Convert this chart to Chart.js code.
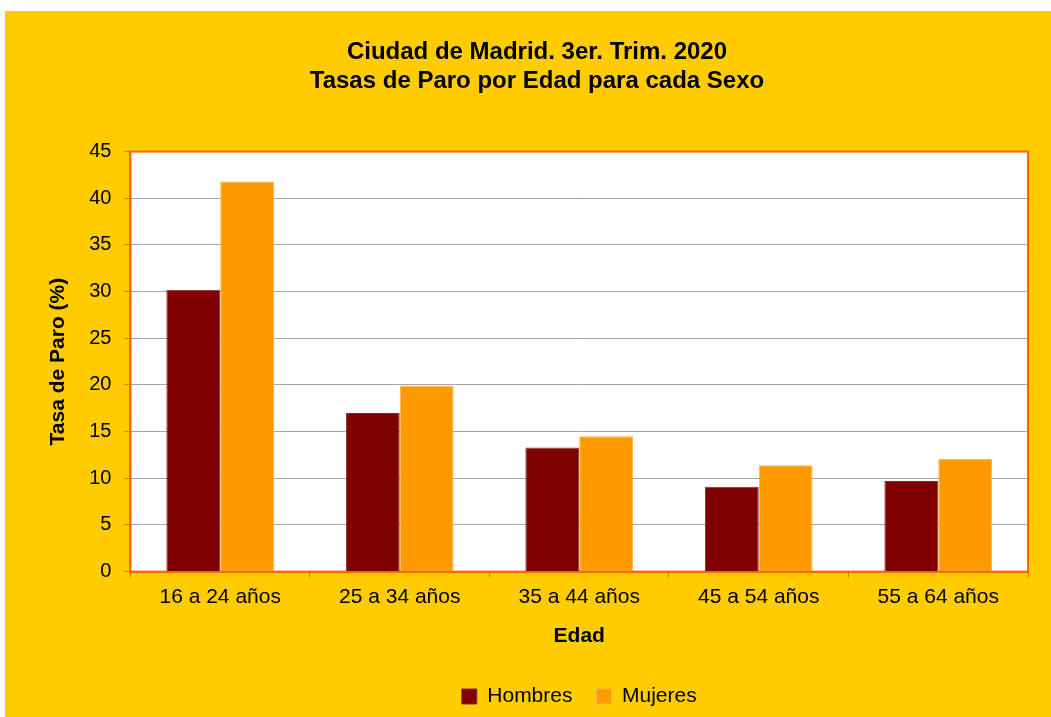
<!DOCTYPE html>
<html lang="es">
<head>
<meta charset="utf-8">
<title>Tasas de Paro por Edad para cada Sexo</title>
<script src="https://cdn.jsdelivr.net/npm/chart.js@4.4.1/dist/chart.umd.min.js"></script>
<style>
    html, body { margin: 0; padding: 0; background: #ffffff; }
    #wrap {
        position: absolute;
        left: 5px;
        top: 11px;
        width: 1046px;
        height: 706px;
        background: #FFCC00;
    }
</style>
</head>
<body>
<div id="wrap"><canvas id="paroChart" width="1046" height="706"></canvas></div>
<script>
// Datos (Ciudad de Madrid, 3er trimestre 2020)
const edades = ['16 a 24 años', '25 a 34 años', '35 a 44 años', '45 a 54 años', '55 a 64 años'];
const hombres = [30.2, 17.0, 13.3, 9.1, 9.7];
const mujeres = [41.8, 19.9, 14.5, 11.4, 12.1];
const yTicks = [0, 5, 10, 15, 20, 25, 30, 35, 40, 45];

const naranja = '#FF6600';
const fuente = "'Liberation Sans', Arial, sans-serif";

// fondo blanco del área de trazado y marco naranja
const plotFrame = {
    id: 'plotFrame',
    beforeDraw(chart) {
        const { ctx, chartArea: a } = chart;
        ctx.save();
        ctx.fillStyle = '#ffffff';
        ctx.fillRect(a.left, a.top, a.right - a.left, a.bottom - a.top);
        ctx.restore();
    },
    beforeDatasetsDraw(chart) {
        const { ctx, chartArea: a } = chart;
        ctx.save();
        ctx.strokeStyle = naranja;
        ctx.lineWidth = 2;
        ctx.strokeRect(a.left, a.top, a.right - a.left, a.bottom - a.top);
        ctx.restore();
    }
};

const ctx = document.getElementById('paroChart').getContext('2d');

new Chart(ctx, {
    type: 'bar',
    data: {
        labels: edades,
        datasets: [{
            label: 'Hombres',
            data: hombres,
            backgroundColor: '#800000',
            borderColor: '#8f2a2a',
            borderWidth: 1,
            categoryPercentage: 0.6,
            barPercentage: 1.0
        }, {
            label: 'Mujeres',
            data: mujeres,
            backgroundColor: '#FF9900',
            borderColor: '#ffb347',
            borderWidth: 1,
            categoryPercentage: 0.6,
            barPercentage: 1.0
        }]
    },
    options: {
        responsive: false,
        animation: false,
        devicePixelRatio: 1,
        layout: {
            padding: { left: 41, right: 23, top: 0, bottom: 0 }
        },
        scales: {
            x: {
                offset: true,
                grid: {
                    display: true,
                    offset: true,
                    drawOnChartArea: false,
                    tickLength: 6,
                    tickColor: naranja,
                    tickWidth: 1
                },
                border: { color: naranja, width: 2 },
                ticks: {
                    color: '#000000',
                    padding: 7,
                    font: { family: fuente, size: 21 }
                },
                title: {
                    display: true,
                    text: 'Edad',
                    color: '#000000',
                    padding: { top: 7, bottom: 13 },
                    font: { family: fuente, size: 21, weight: 'bold' }
                }
            },
            y: {
                min: 0,
                max: 45,
                afterBuildTicks(axis) {
                    axis.ticks = yTicks.map(v => ({ value: v }));
                },
                grid: {
                    color: '#A6A6A6',
                    lineWidth: 1,
                    tickLength: 6,
                    tickColor: naranja
                },
                border: { color: naranja, width: 2 },
                ticks: {
                    color: '#000000',
                    padding: 13,
                    font: { family: fuente, size: 20 }
                },
                title: {
                    display: true,
                    text: 'Tasa de Paro (%)',
                    color: '#000000',
                    padding: { top: 0, bottom: 5 },
                    font: { family: fuente, size: 21, weight: 'bold' }
                }
            }
        },
        plugins: {
            title: {
                display: true,
                text: ['Ciudad de Madrid. 3er. Trim. 2020', 'Tasas de Paro por Edad para cada Sexo'],
                color: '#000000',
                padding: { top: 27, bottom: 56 },
                font: { family: fuente, size: 24, weight: 'bold', lineHeight: 1.2 }
            },
            legend: {
                position: 'bottom',
                fullSize: false,
                labels: {
                    color: '#000000',
                    boxWidth: 15,
                    boxHeight: 15,
                    padding: 24,
                    font: { family: fuente, size: 21 }
                }
            },
            tooltip: { enabled: false }
        }
    },
    plugins: [plotFrame]
});
</script>
</body>
</html>
